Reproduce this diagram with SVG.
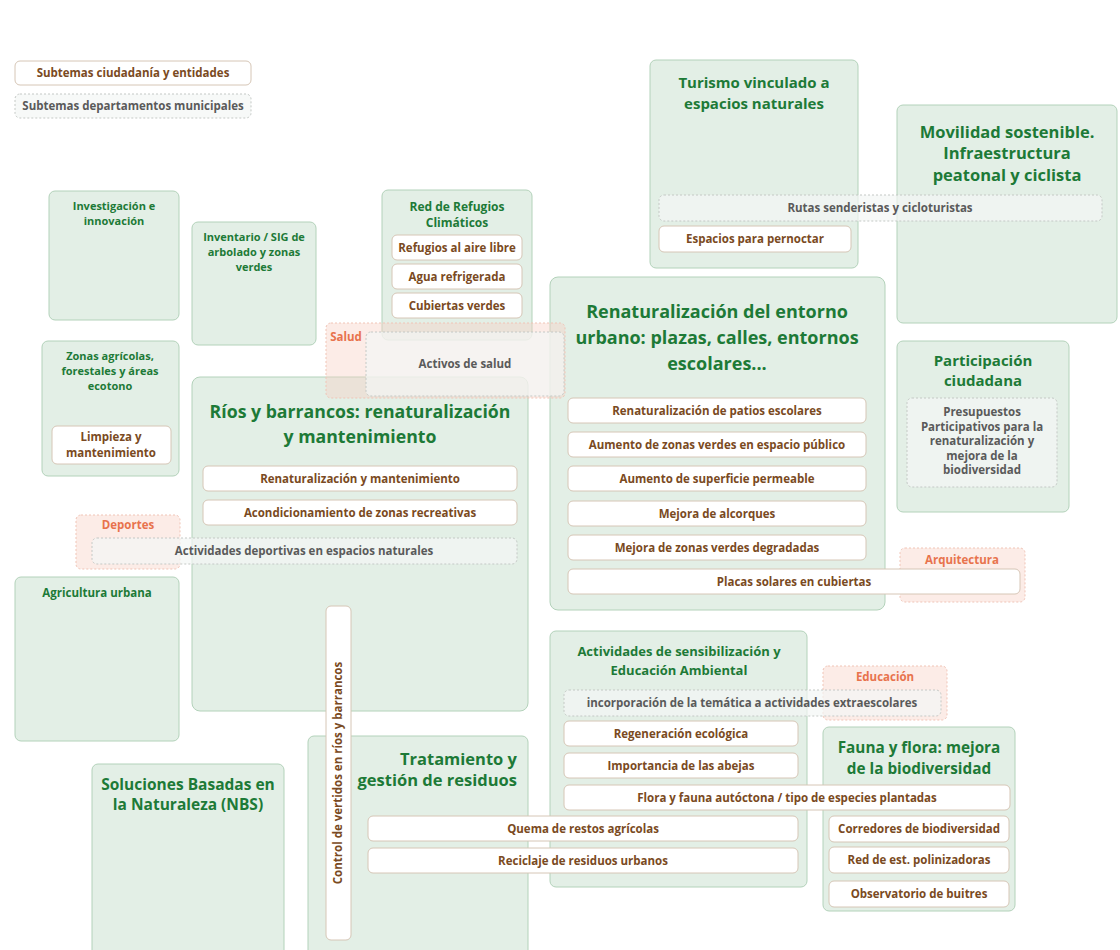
<svg xmlns="http://www.w3.org/2000/svg" width="1120" height="950" viewBox="0 0 1120 950">
<style>
text{font-family:"Open Sans","Noto Sans","DejaVu Sans",sans-serif;font-weight:700;text-anchor:middle}
.g{fill:#e3efe6;stroke:#b3d2ba;stroke-width:1}
.w{fill:#ffffff;stroke:#d6c6b6;stroke-width:1}
.d{fill:#f4f7f5;fill-opacity:0.7;stroke:#c4c8c5;stroke-width:1;stroke-dasharray:2 2}
.p{fill:#f7cfc2;fill-opacity:0.4;stroke:#f0c4b6;stroke-width:1;stroke-dasharray:2 2}
.tg{fill:#1d7a37}
.tb{fill:#7a4a22;font-size:11.5px}
.tq{fill:#5a5a5a;font-size:11.5px}
.to{fill:#e8734d;font-size:11.5px}
</style>
<rect width="1120" height="950" fill="#ffffff"/>
<g id="legend">
<rect class="w" x="15" y="61" width="236" height="24" rx="5"/>
<text class="tb" x="133" y="77">Subtemas ciudadanía y entidades</text>
<rect class="d" x="15" y="94" width="236" height="24" rx="5"/>
<text class="tq" x="133" y="110">Subtemas departamentos municipales</text>
</g>
<g id="connectors"></g>
<g id="turismo">
<rect class="g" x="650" y="60" width="208" height="208" rx="6"/>
<text class="tg" font-size="15" x="754" y="88">Turismo vinculado a</text>
<text class="tg" font-size="15" x="754" y="109">espacios naturales</text>
</g>
<g id="movilidad">
<rect class="g" x="897" y="105" width="220" height="218" rx="6"/>
<text class="tg" font-size="16.5" x="1007" y="138">Movilidad sostenible.</text>
<text class="tg" font-size="16.5" x="1007" y="159">Infraestructura</text>
<text class="tg" font-size="16.5" x="1007" y="181">peatonal y ciclista</text>
</g>
<g id="rutas">
<rect class="d" x="659" y="195" width="443" height="26" rx="5"/>
<text class="tq" x="880" y="212">Rutas senderistas y cicloturistas</text>
</g>
<g id="pernoctar">
<rect class="w" x="659" y="226" width="192" height="26" rx="5"/>
<text class="tb" x="755" y="243">Espacios para pernoctar</text>
</g>
<g id="investigacion">
<rect class="g" x="49" y="191" width="130" height="129" rx="6"/>
<text class="tg" font-size="11" x="114" y="210">Investigación e</text>
<text class="tg" font-size="11" x="114" y="225">innovación</text>
</g>
<g id="inventario">
<rect class="g" x="192" y="222" width="124" height="123" rx="6"/>
<text class="tg" font-size="11" x="254" y="241">Inventario / SIG de</text>
<text class="tg" font-size="11" x="254" y="256">arbolado y zonas</text>
<text class="tg" font-size="11" x="254" y="271">verdes</text>
</g>
<g id="zonas-agricolas">
<rect class="g" x="42" y="341" width="137" height="135" rx="6"/>
<text class="tg" font-size="11" x="110" y="360">Zonas agrícolas,</text>
<text class="tg" font-size="11" x="110" y="375">forestales y áreas</text>
<text class="tg" font-size="11" x="110" y="390">ecotono</text>
<rect class="w" x="52" y="426" width="119" height="38" rx="5"/>
<text class="tb" x="111" y="441">Limpieza y</text>
<text class="tb" x="111" y="457">mantenimiento</text>
</g>
<g id="rios">
<rect class="g" x="192" y="377" width="336" height="334" rx="8"/>
<text class="tg" font-size="17.7" x="360" y="418">Ríos y barrancos: renaturalización</text>
<text class="tg" font-size="17.7" x="360" y="443">y mantenimiento</text>
<rect class="w" x="203" y="466" width="314" height="25" rx="5"/>
<text class="tb" x="360" y="483">Renaturalización y mantenimiento</text>
<rect class="w" x="203" y="500" width="314" height="25" rx="5"/>
<text class="tb" x="360" y="517">Acondicionamiento de zonas recreativas</text>
</g>
<g id="refugios">
<rect class="g" x="382" y="190" width="150" height="150" rx="6"/>
<text class="tg" font-size="12" x="457" y="211">Red de Refugios</text>
<text class="tg" font-size="12" x="457" y="227">Climáticos</text>
<rect class="w" x="392" y="235" width="130" height="25" rx="5"/>
<text class="tb" x="457" y="252">Refugios al aire libre</text>
<rect class="w" x="392" y="264" width="130" height="25" rx="5"/>
<text class="tb" x="457" y="281">Agua refrigerada</text>
<rect class="w" x="392" y="293" width="130" height="25" rx="5"/>
<text class="tb" x="457" y="310">Cubiertas verdes</text>
</g>
<g id="renaturalizacion">
<rect class="g" x="550" y="277" width="335" height="333" rx="8"/>
<text class="tg" font-size="18" x="717" y="318">Renaturalización del entorno</text>
<text class="tg" font-size="18" x="717" y="344">urbano: plazas, calles, entornos</text>
<text class="tg" font-size="18" x="717" y="370">escolares...</text>
<rect class="w" x="568" y="398" width="298" height="25" rx="5"/>
<text class="tb" x="717" y="415">Renaturalización de patios escolares</text>
<rect class="w" x="568" y="432" width="298" height="25" rx="5"/>
<text class="tb" x="717" y="449">Aumento de zonas verdes en espacio público</text>
<rect class="w" x="568" y="466" width="298" height="25" rx="5"/>
<text class="tb" x="717" y="483">Aumento de superficie permeable</text>
<rect class="w" x="568" y="501" width="298" height="25" rx="5"/>
<text class="tb" x="717" y="518">Mejora de alcorques</text>
<rect class="w" x="568" y="535" width="298" height="25" rx="5"/>
<text class="tb" x="717" y="552">Mejora de zonas verdes degradadas</text>
</g>
<g id="salud">
<rect class="p" x="326" y="323" width="239" height="75" rx="5"/>
<text class="to" x="346" y="341">Salud</text>
<rect class="d" x="366" y="332" width="198" height="64" rx="5"/>
<text class="tq" x="465" y="368">Activos de salud</text>
</g>
<g id="deportes">
<rect class="p" x="76" y="515" width="104" height="54" rx="5"/>
<text class="to" x="128" y="529">Deportes</text>
<rect class="d" x="92" y="538" width="425" height="26" rx="5"/>
<text class="tq" x="304" y="555">Actividades deportivas en espacios naturales</text>
</g>
<g id="agricultura">
<rect class="g" x="15" y="577" width="164" height="164" rx="6"/>
<text class="tg" font-size="11.5" x="97" y="597">Agricultura urbana</text>
</g>
<g id="arquitectura">
<rect class="p" x="900" y="548" width="125" height="54" rx="5"/>
<text class="to" x="962" y="564">Arquitectura</text>
</g>
<g id="placas">
<rect class="w" x="568" y="569" width="452" height="25" rx="5"/>
<text class="tb" x="794" y="586">Placas solares en cubiertas</text>
</g>
<g id="participacion">
<rect class="g" x="897" y="341" width="172" height="171" rx="6"/>
<text class="tg" font-size="15" x="983" y="366">Participación</text>
<text class="tg" font-size="15" x="983" y="386">ciudadana</text>
<rect class="d" x="907" y="398" width="150" height="89" rx="5"/>
<text class="tq" x="982" y="416">Presupuestos</text>
<text class="tq" x="982" y="431">Participativos para la</text>
<text class="tq" x="982" y="445">renaturalización y</text>
<text class="tq" x="982" y="460">mejora de la</text>
<text class="tq" x="982" y="474">biodiversidad</text>
</g>
<g id="tratamiento">
<rect class="g" x="308" y="736" width="220" height="220" rx="6"/>
<text class="tg" font-size="16.5" x="517" y="765" style="text-anchor:end">Tratamiento y</text>
<text class="tg" font-size="16.5" x="517" y="786" style="text-anchor:end">gestión de residuos</text>
</g>
<g id="control">
<rect class="w" x="326" y="606" width="25" height="334" rx="5"/>
<text class="tb" transform="translate(342 773) rotate(-90)">Control de vertidos en ríos y barrancos</text>
</g>
<g id="soluciones">
<rect class="g" x="92" y="764" width="192" height="192" rx="6"/>
<text class="tg" font-size="15.5" x="188" y="790">Soluciones Basadas en</text>
<text class="tg" font-size="15.5" x="188" y="810">la Naturaleza (NBS)</text>
</g>
<g id="sensibilizacion">
<rect class="g" x="550" y="631" width="257" height="256" rx="6"/>
<text class="tg" font-size="13" x="679" y="656">Actividades de sensibilización y</text>
<text class="tg" font-size="13" x="679" y="675">Educación Ambiental</text>
<rect class="w" x="564" y="721" width="234" height="25" rx="5"/>
<text class="tb" x="681" y="738">Regeneración ecológica</text>
<rect class="w" x="564" y="753" width="234" height="25" rx="5"/>
<text class="tb" x="681" y="770">Importancia de las abejas</text>
</g>
<g id="educacion">
<rect class="p" x="823" y="666" width="124" height="54" rx="5"/>
<text class="to" x="885" y="681">Educación</text>
<rect class="d" x="564" y="690" width="377" height="26" rx="5"/>
<text class="tq" x="752" y="707">incorporación de la temática a actividades extraescolares</text>
</g>
<g id="fauna">
<rect class="g" x="823" y="727" width="192" height="184" rx="6"/>
<text class="tg" font-size="15.3" x="919" y="753">Fauna y flora: mejora</text>
<text class="tg" font-size="15.3" x="919" y="774">de la biodiversidad</text>
<rect class="w" x="829" y="816" width="180" height="26" rx="5"/>
<text class="tb" x="919" y="833">Corredores de biodiversidad</text>
<rect class="w" x="829" y="847" width="180" height="26" rx="5"/>
<text class="tb" x="919" y="864">Red de est. polinizadoras</text>
<rect class="w" x="829" y="881" width="180" height="26" rx="5"/>
<text class="tb" x="919" y="898">Observatorio de buitres</text>
</g>
<g id="flora-fauna">
<rect class="w" x="564" y="785" width="446" height="25" rx="5"/>
<text class="tb" x="787" y="802">Flora y fauna autóctona / tipo de especies plantadas</text>
</g>
<g id="quema">
<rect class="w" x="368" y="816" width="430" height="25" rx="5"/>
<text class="tb" x="583" y="833">Quema de restos agrícolas</text>
</g>
<g id="reciclaje">
<rect class="w" x="368" y="848" width="430" height="25" rx="5"/>
<text class="tb" x="583" y="865">Reciclaje de residuos urbanos</text>
</g>
</svg>
